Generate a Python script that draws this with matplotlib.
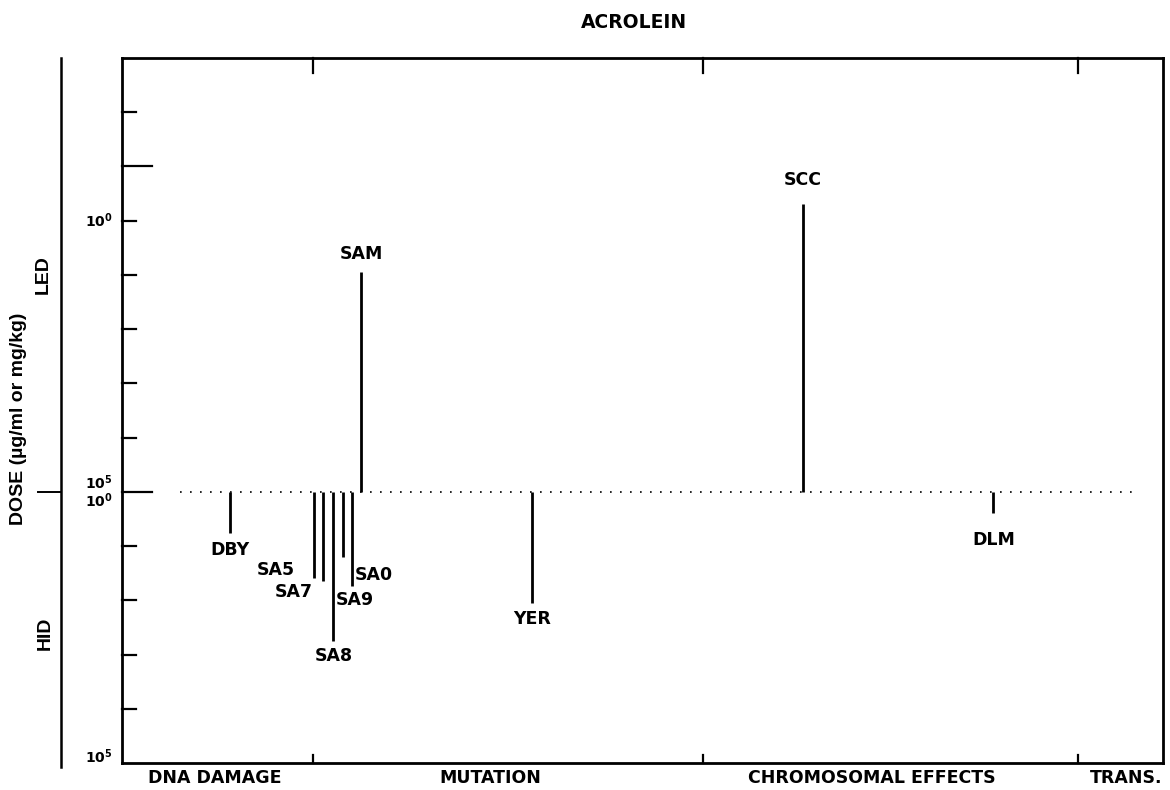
import numpy as np
import matplotlib.pyplot as plt
from matplotlib.transforms import blended_transform_factory

# test codes, their slots along the x axis and the dose read for each
codes = ['DBY', 'SA5', 'SA7', 'SA8', 'SA9', 'SA0', 'SAM', 'YER', 'SCC', 'DLM']
slots = [10.4, 18.4, 19.3, 20.3, 21.2, 22.1, 23.0, 39.4, 65.4, 83.7]
positive = [False, False, False, False, False, False, True, False, True, False]
doses = [5.8, 39, 44, 560, 16, 54, 8.8, 112, 0.5, 2.5]  # LED if positive else HID

sections = ['DNA DAMAGE', 'MUTATION', 'CHROMOSOMAL EFFECTS', 'TRANS.']
section_centers = [8.9, 35.4, 72.0, 96.5]
section_edges = [18.3, 55.8, 91.8]

# where each code label sits relative to the end of its line (pixels)
label_place = {
    'DBY': (0, -8, 'center', 'top'),
    'SA5': (-19, 8, 'right', 'center'),
    'SA7': (-10, -11, 'right', 'center'),
    'SA8': (0, -6, 'center', 'top'),
    'SA9': (-7, -43, 'left', 'center'),
    'SA0': (3, 11, 'left', 'center'),
    'SAM': (0, 9, 'center', 'bottom'),
    'YER': (0, -7, 'center', 'top'),
    'SCC': (0, 15, 'center', 'bottom'),
    'DLM': (0, -18, 'center', 'top'),
}


def heights():
    # LED plotted upward (10^5 at the baseline), HID downward (10^0 at the baseline)
    out = []
    for d, pos in zip(doses, positive):
        out.append(5 - np.log10(d) if pos else -np.log10(d))
    return out


plt.rcParams['mathtext.fontset'] = 'dejavusans'
fig = plt.figure(figsize=(11.7, 7.9), dpi=100)
ax = fig.add_axes([122 / 1170, 1 - 763 / 790, 1041 / 1170, 705 / 790])
ax.set_xlim(0, 100)
ax.set_ylim(-5, 8)
ax.set_xticks([])
ax.set_yticks([])
for sp in ax.spines.values():
    sp.set_linewidth(2)

plot_font = dict(family='DejaVu Sans', weight='bold', fontsize=12.5)
axis_font = dict(family='Liberation Sans', weight='bold')

# dotted baseline and the test lines
ax.hlines(0, 5.6, 97.8, colors='black', linestyles=(0, (1, 5)), linewidth=1.2)
h = heights()
ax.vlines(slots, 0, h, colors='black', linewidth=2)
for code, x, y in zip(codes, slots, h):
    dx, dy, ha, va = label_place[code]
    ax.annotate(code, (x, y), xytext=(dx, dy), textcoords='offset pixels',
                ha=ha, va=va, **plot_font)

# left ticks drawn inward, long ones at 0 and +6
ytr = ax.get_yaxis_transform()
for t in range(-4, 8):
    ln = 0.029 if t in (0, 6) else 0.0135
    ax.plot([0, ln], [t, t], color='black', lw=1.6, transform=ytr, clip_on=False)

# section boundaries on top and bottom
xtr = ax.get_xaxis_transform()
for e in section_edges:
    ax.plot([e, e], [0, 0.012], color='black', lw=1.6, transform=xtr, clip_on=False)
    ax.plot([e, e], [1, 0.979], color='black', lw=1.6, transform=xtr, clip_on=False)
for name, c in zip(sections, section_centers):
    ax.text(c, -0.021, name, transform=xtr, ha='center', va='center', **plot_font)

# dose labels
lab = dict(transform=ytr, ha='right', va='center', fontsize=10)
ax.text(-0.009, 5, r'$\mathbf{10^{0}}$', **lab)
ax.text(-0.009, 0.17, r'$\mathbf{10^{5}}$', **lab)
ax.text(-0.009, -0.17, r'$\mathbf{10^{0}}$', **lab)
ax.text(-0.009, -4.88, r'$\mathbf{10^{5}}$', **lab)

# outer dose scale with LED above and HID below the baseline
outer = blended_transform_factory(ax.transAxes, ax.transData)
ax.plot([-0.0586, -0.0586], [-5.07, 8], color='black', lw=1.8, transform=outer, clip_on=False)
ax.plot([-0.0807, -0.0586], [0, 0], color='black', lw=1.4, transform=outer, clip_on=False)
ax.text(-0.0755, 4.0, 'LED', transform=outer, rotation=90, ha='center', va='center',
        fontsize=14, **axis_font)
ax.text(-0.0735, -2.6, 'HID', transform=outer, rotation=90, ha='center', va='center',
        fontsize=14, **axis_font)
ax.text(-0.099, 1.35, 'DOSE (µg/ml or mg/kg)', transform=outer, rotation=90,
        ha='center', va='center', fontsize=14, **axis_font)

fig.text(634 / 1170, 1 - 23 / 790, 'ACROLEIN', ha='center', va='center',
         family='DejaVu Sans', weight='bold', fontsize=13.5)

fig.savefig('out.png', dpi=100)
